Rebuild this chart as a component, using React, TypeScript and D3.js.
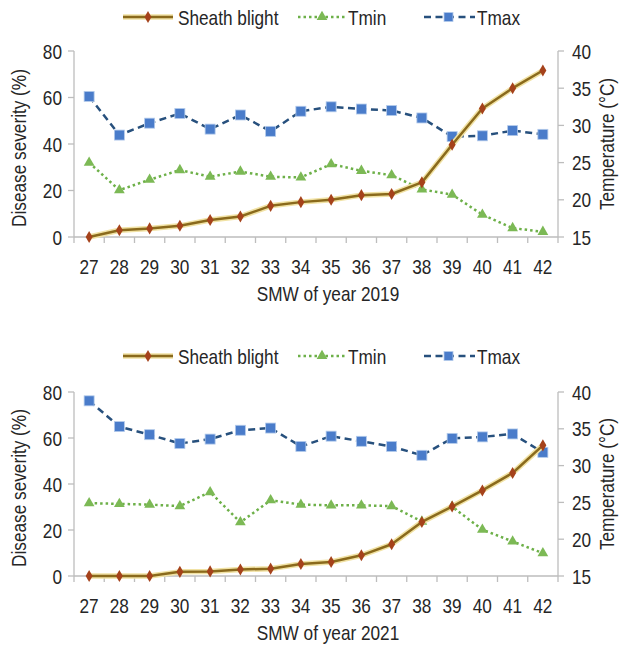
import React from "react";
import * as d3 from "d3";

// Standard meteorological weeks on the x axis
const weeks = ["27", "28", "29", "30", "31", "32", "33", "34", "35", "36", "37", "38", "39", "40", "41", "42"];

// 2019 season
const blight2019 = [0, 2.9, 3.7, 4.8, 7.3, 8.8, 13.4, 15, 16, 18, 18.5, 23.5, 39.7, 55.3, 64, 71.6];
const tmin2019 = [25.0, 21.3, 22.7, 24.0, 23.1, 23.8, 23.1, 23.0, 24.8, 23.9, 23.3, 21.4, 20.7, 18.0, 16.2, 15.7];
const tmax2019 = [33.9, 28.7, 30.3, 31.6, 29.5, 31.4, 29.2, 31.9, 32.5, 32.2, 32.0, 31.0, 28.5, 28.6, 29.3, 28.8];

// 2021 season
const blight2021 = [0, 0, 0, 1.8, 2.0, 2.8, 3.2, 5.2, 6.1, 9.0, 13.8, 23.5, 30.2, 37.2, 44.8, 56.8];
const tmin2021 = [24.9, 24.8, 24.7, 24.5, 26.4, 22.3, 25.3, 24.7, 24.6, 24.6, 24.5, 22.4, 24.4, 21.3, 19.7, 18.1];
const tmax2021 = [38.8, 35.3, 34.2, 33.0, 33.6, 34.8, 35.1, 32.6, 34.0, 33.3, 32.6, 31.4, 33.7, 33.9, 34.3, 31.8];

const leftTicks = [0, 20, 40, 60, 80];
const rightTicks = [15, 20, 25, 30, 35, 40];

const FONT = "'Liberation Sans', Arial, sans-serif";
const NARROW = 0.82; // horizontal squeeze for a condensed sans look
const TEXT = "#262626";
const AXIS = "#BDBDBD";

const C_BLIGHT = "#8A6A1C";
const C_BLIGHT_HALO = "#F1E2A4";
const C_DIAMOND = "#A5421B";
const C_TMIN = "#6DB048";
const C_TRI = "#7CB955";
const C_TMAX = "#27507D";
const C_SQ = "#4A7CCA";
const C_SQ_EDGE = "#B4CBEB";

const LEFT = 74;
const RIGHT = 558;

// Condensed text label, optionally rotated
function T({
  x,
  y,
  anchor = "start",
  rotate = 0,
  children,
}: {
  x: number;
  y: number;
  anchor?: "start" | "middle" | "end";
  rotate?: number;
  children: React.ReactNode;
}) {
  return (
    <text
      transform={`translate(${x},${y}) rotate(${rotate}) scale(${NARROW},1)`}
      textAnchor={anchor}
      fontFamily={FONT}
      fontSize={21}
      fill={TEXT}
    >
      {children}
    </text>
  );
}

function Legend({ y }: { y: number }) {
  const diamond = d3.symbol(d3.symbolDiamond, 42)()!;
  const tri = d3.symbol(d3.symbolTriangle, 50)()!;
  return (
    <g>
      <line x1={123} x2={173} y1={y} y2={y} stroke={C_BLIGHT_HALO} strokeWidth={5.5} />
      <line x1={123} x2={173} y1={y} y2={y} stroke={C_BLIGHT} strokeWidth={2.5} />
      <path d={diamond} transform={`translate(148,${y})`} fill={C_DIAMOND} />
      <T x={178} y={y + 7.5}>Sheath blight</T>

      <line x1={298} x2={347} y1={y} y2={y} stroke={C_TMIN} strokeWidth={2.5} strokeDasharray="2.5 3" />
      <path d={tri} transform={`translate(322,${y})`} fill={C_TRI} />
      <T x={348} y={y + 7.5}>Tmin</T>

      <line x1={424} x2={475} y1={y} y2={y} stroke={C_TMAX} strokeWidth={2.5} strokeDasharray="7 4.5" />
      <rect x={444} y={y - 4.5} width={9} height={9} fill={C_SQ} stroke={C_SQ_EDGE} strokeWidth={0.8} />
      <T x={477} y={y + 7.5}>Tmax</T>
    </g>
  );
}

type PanelProps = {
  top: number;
  bottom: number;
  legendY: number;
  title: string;
  blight: number[];
  tmin: number[];
  tmax: number[];
};

function Panel({ top, bottom, legendY, title, blight, tmin, tmax }: PanelProps) {
  const x = d3.scaleBand<string>().domain(weeks).range([LEFT, RIGHT]);
  const yL = d3.scaleLinear().domain([0, 80]).range([bottom, top]);
  const yR = d3.scaleLinear().domain([15, 40]).range([bottom, top]);
  const cx = (i: number) => (x(weeks[i]) as number) + x.bandwidth() / 2;

  const lineL = d3.line<number>().x((_, i) => cx(i)).y((d) => yL(d));
  const lineR = d3.line<number>().x((_, i) => cx(i)).y((d) => yR(d));

  const diamond = d3.symbol(d3.symbolDiamond, 42)()!;
  const tri = d3.symbol(d3.symbolTriangle, 50)()!;
  const bounds = [...weeks.map((w) => x(w) as number), RIGHT];
  const mid = (top + bottom) / 2;

  return (
    <g>
      <Legend y={legendY} />

      {/* axes */}
      <g stroke={AXIS} strokeWidth={1.3} fill="none">
        <line x1={LEFT} x2={LEFT} y1={top} y2={bottom} />
        <line x1={RIGHT} x2={RIGHT} y1={top} y2={bottom} />
        <line x1={LEFT} x2={RIGHT} y1={bottom} y2={bottom} />
        {leftTicks.map((t) => (
          <line key={"l" + t} x1={LEFT - 6} x2={LEFT} y1={yL(t)} y2={yL(t)} />
        ))}
        {rightTicks.map((t) => (
          <line key={"r" + t} x1={RIGHT} x2={RIGHT + 6} y1={yR(t)} y2={yR(t)} />
        ))}
        {bounds.map((b, i) => (
          <line key={"b" + i} x1={b} x2={b} y1={bottom} y2={bottom + 6} />
        ))}
      </g>

      {leftTicks.map((t) => (
        <T key={"lt" + t} x={LEFT - 12} y={yL(t) + 7.5} anchor="end">{t}</T>
      ))}
      {rightTicks.map((t) => (
        <T key={"rt" + t} x={RIGHT + 14} y={yR(t) + 7.5}>{t}</T>
      ))}
      {weeks.map((w, i) => (
        <T key={"xt" + w} x={cx(i)} y={bottom + 36.5} anchor="middle">{w}</T>
      ))}
      <T x={328} y={bottom + 64} anchor="middle">{title}</T>
      <T x={26} y={mid + 4} rotate={-90} anchor="middle">Disease severity (%)</T>
      <T x={614} y={mid} rotate={-90} anchor="middle">Temperature (°C)</T>

      {/* Tmax */}
      <path d={lineR(tmax)!} fill="none" stroke={C_TMAX} strokeWidth={2.5} strokeDasharray="7 4.5" />
      {/* Tmin */}
      <path d={lineR(tmin)!} fill="none" stroke={C_TMIN} strokeWidth={2.5} strokeDasharray="2.5 3" />
      {tmin.map((v, i) => (
        <path key={"tri" + i} d={tri} transform={`translate(${cx(i)},${yR(v)})`} fill={C_TRI} />
      ))}
      {tmax.map((v, i) => (
        <rect key={"sq" + i} x={cx(i) - 5} y={yR(v) - 5} width={10} height={10} fill={C_SQ} stroke={C_SQ_EDGE} strokeWidth={0.8} />
      ))}
      {/* Sheath blight */}
      <path d={lineL(blight)!} fill="none" stroke={C_BLIGHT_HALO} strokeWidth={5.5} strokeLinejoin="round" />
      <path d={lineL(blight)!} fill="none" stroke={C_BLIGHT} strokeWidth={2.5} strokeLinejoin="round" />
      {blight.map((v, i) => (
        <path key={"dm" + i} d={diamond} transform={`translate(${cx(i)},${yL(v)})`} fill={C_DIAMOND} />
      ))}
    </g>
  );
}

export default function App() {
  return (
    <svg
      width={619}
      height={645}
      viewBox="0 0 619 645"
      style={{ position: "absolute", left: 0, top: 0, background: "#fff" }}
    >
      <rect width={619} height={645} fill="#fff" />
      <Panel top={51} bottom={237} legendY={17} title="SMW of year 2019" blight={blight2019} tmin={tmin2019} tmax={tmax2019} />
      <Panel top={392} bottom={576} legendY={356} title="SMW of year 2021" blight={blight2021} tmin={tmin2021} tmax={tmax2021} />
    </svg>
  );
}
